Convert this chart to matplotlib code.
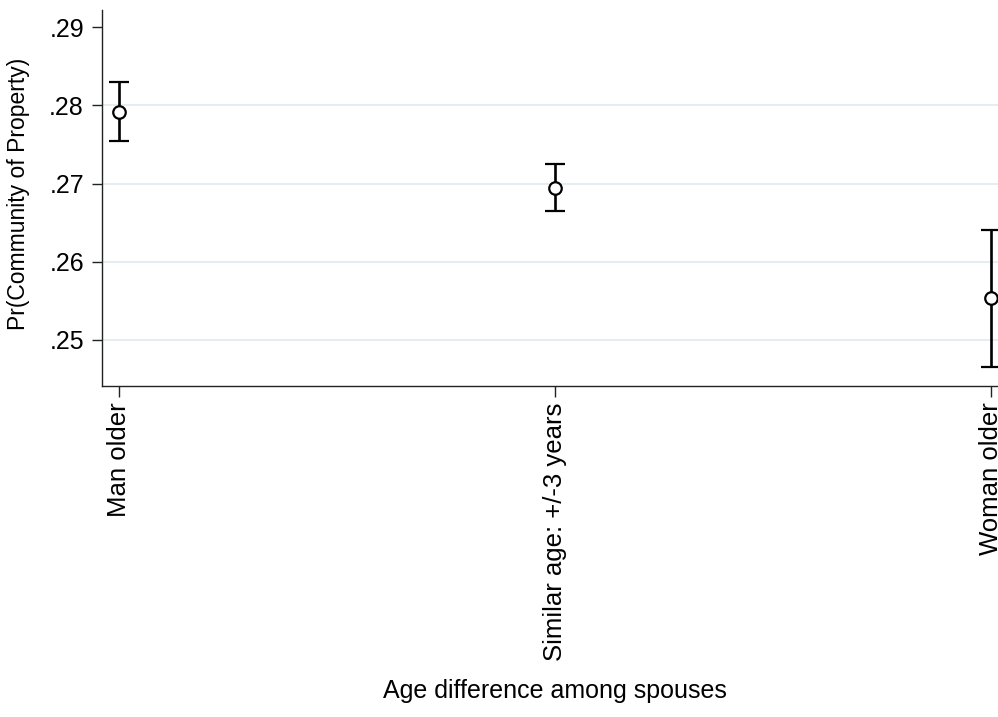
import matplotlib.pyplot as plt

plt.rcParams['font.family'] = ['Liberation Sans', 'DejaVu Sans']

# marginal predictions with 95% CIs
groups = ['Man older', 'Similar age: +/-3 years', 'Woman older']
pr = [0.2791, 0.2694, 0.2554]
ci_low = [0.2754, 0.2665, 0.2465]
ci_high = [0.2830, 0.2725, 0.2640]
yticks = [0.25, 0.26, 0.27, 0.28, 0.29]
ytick_labels = ['.25', '.26', '.27', '.28', '.29']
grid_at = [0.25, 0.26, 0.27, 0.28]

fig = plt.figure(figsize=(9.98, 7.17), dpi=100)
ax = fig.add_axes([0.1022, 0.4616, 0.8978, 0.5244])

for y in grid_at:
    ax.axhline(y, color='#e4eef0', lw=1.4, zorder=0)

xs = list(range(len(groups)))
err = [[p - lo for p, lo in zip(pr, ci_low)], [hi - p for p, hi in zip(pr, ci_high)]]
ax.errorbar(xs, pr, yerr=err, fmt='o', color='black', ecolor='black',
            elinewidth=1.9, capsize=7, capthick=1.9,
            markersize=9, markerfacecolor='white', markeredgewidth=1.6, zorder=3)

ax.set_xlim(-0.039, 2.016)
ax.set_ylim(0.2441, 0.2922)
ax.set_yticks(yticks)
ax.set_yticklabels(ytick_labels)
ax.set_xticks(xs)
ax.set_xticklabels(groups, rotation=90, va='top', ha='center')

for side in ['top', 'right']:
    ax.spines[side].set_visible(False)
for side in ['left', 'bottom']:
    ax.spines[side].set_linewidth(1.0)
    ax.spines[side].set_color('#222222')

ax.tick_params(axis='y', length=7, width=1.0, pad=6, labelsize=18, color='#222222')
ax.tick_params(axis='x', length=8, width=1.0, pad=4, labelsize=18.5, color='#222222')

ax.set_ylabel('Pr(Community of Property)', fontsize=16.5)
ax.set_xlabel('Age difference among spouses', fontsize=18)
ax.yaxis.set_label_coords(-0.080, 0.51)
ax.xaxis.set_label_coords(0.505, -0.78)

fig.savefig('out.png', dpi=100)
